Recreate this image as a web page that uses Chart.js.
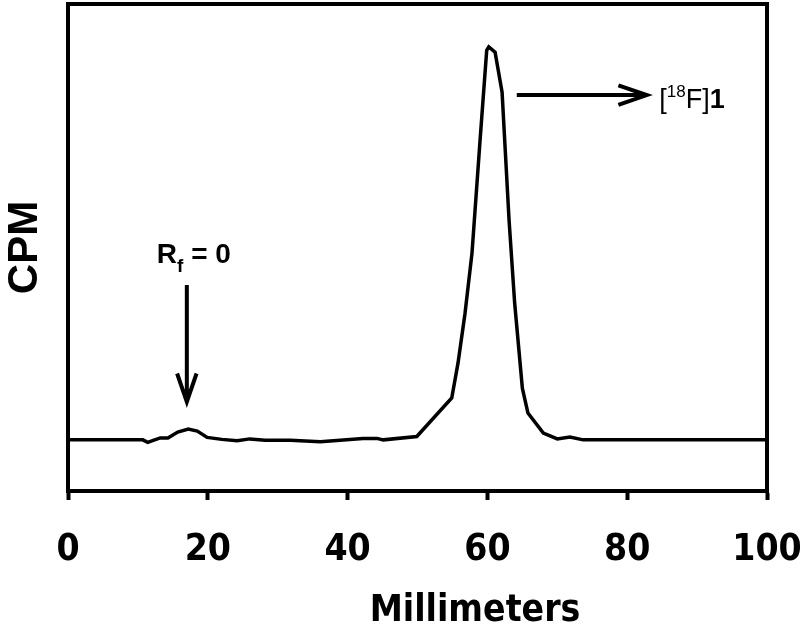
<!DOCTYPE html>
<html>
<head>
<meta charset="utf-8">
<title>Radio-TLC</title>
<script src="https://cdn.jsdelivr.net/npm/chart.js@4.4.1/dist/chart.umd.min.js"></script>
<style>
  html, body { margin: 0; padding: 0; background: #fff; }
  #tlc { display: block; }
</style>
</head>
<body>
<canvas id="tlc" width="800" height="626"></canvas>
<script>
// radio-TLC trace (CPM in arbitrary units)
const millimeters = [0, 8.9, 10.7, 11.4, 12.4, 13.2, 14.3, 15.7, 17.2, 18.5,
    19.9, 22.0, 24.2, 26.0, 28.2, 31.8, 36.1, 42.2, 44.2, 45.1,
    49.9, 54.9, 55.8, 56.8, 57.8, 58.9, 59.9, 60.2, 61.1, 62.1,
    63.1, 63.9, 65.0, 65.8, 68.0, 70.0, 71.8, 73.7, 100];
const cpm = [105, 105, 105, 100, 105, 109, 109, 121, 127, 123,
    110, 106, 103, 107, 104, 104, 101, 108, 108, 105,
    112, 191, 263, 365, 489, 710, 905, 912, 901, 819,
    556, 386, 211, 160, 119, 107, 111, 105, 105];
const xTicks = [0, 20, 40, 60, 80, 100];
const xTitle = "Millimeters";
const yTitle = "CPM";

const narrow = '"Liberation Sans Narrow", "DejaVu Sans Condensed", "Arial Narrow", sans-serif';
const sans = '"Liberation Sans", Arial, sans-serif';

function arrow(ctx, x1, y1, x2, y2) {
    const ang = Math.atan2(y2 - y1, x2 - x1);
    const len = 30, spread = 0.33;
    ctx.beginPath();
    ctx.moveTo(x1, y1);
    ctx.lineTo(x2, y2);
    ctx.moveTo(x2 - len * Math.cos(ang - spread), y2 - len * Math.sin(ang - spread));
    ctx.lineTo(x2, y2);
    ctx.lineTo(x2 - len * Math.cos(ang + spread), y2 - len * Math.sin(ang + spread));
    ctx.stroke();
}

// frame on top/right plus the arrows and their labels
const extras = {
    id: 'extras',
    afterDraw(chart) {
        const { ctx, chartArea: a } = chart;
        const xs = chart.scales.x, ys = chart.scales.y;
        ctx.save();
        ctx.strokeStyle = '#000';
        ctx.lineWidth = 4;
        ctx.lineCap = 'square';
        ctx.beginPath();
        ctx.moveTo(a.left, a.top);
        ctx.lineTo(a.right, a.top);
        ctx.lineTo(a.right, a.bottom);
        ctx.stroke();

        ctx.lineCap = 'butt';
        ctx.lineWidth = 4;
        // Rf = 0 arrow
        const rx = xs.getPixelForValue(17.0);
        arrow(ctx, rx, ys.getPixelForValue(423), rx, ys.getPixelForValue(183));
        // product arrow
        const ay = ys.getPixelForValue(813);
        arrow(ctx, xs.getPixelForValue(64.2), ay, xs.getPixelForValue(82.8), ay);

        ctx.fillStyle = '#000';
        ctx.textBaseline = 'alphabetic';
        ctx.textAlign = 'left';

        // R_f = 0
        const big = 'bold 28px ' + sans, small = 'bold 19px ' + sans;
        ctx.font = big;
        const wR = ctx.measureText('R').width, wEq = ctx.measureText(' = 0').width;
        ctx.font = small;
        const wf = ctx.measureText('f').width;
        let tx = xs.getPixelForValue(18.0) - (wR + wf + wEq) / 2;
        const ty = ys.getPixelForValue(468);
        ctx.font = big; ctx.fillText('R', tx, ty); tx += wR;
        ctx.font = small; ctx.fillText('f', tx, ty + 9); tx += wf;
        ctx.font = big; ctx.fillText(' = 0', tx, ty);

        // [18F]1
        let lx = xs.getPixelForValue(84.6);
        const ly = ys.getPixelForValue(786);
        const reg = '27px ' + sans, sup = '17px ' + sans, bld = 'bold 27px ' + sans;
        ctx.font = reg; ctx.fillText('[', lx, ly); lx += ctx.measureText('[').width;
        ctx.font = sup; ctx.fillText('18', lx, ly - 11); lx += ctx.measureText('18').width;
        ctx.font = reg; ctx.fillText('F]', lx, ly); lx += ctx.measureText('F]').width;
        ctx.font = bld; ctx.fillText('1', lx, ly);

        // x axis title, sits right of centre in the original
        ctx.font = 'bold 37px ' + narrow;
        ctx.textAlign = 'center';
        ctx.fillText(xTitle, 475, 621);
        ctx.restore();
    }
};

new Chart(document.getElementById('tlc'), {
    type: 'line',
    data: {
        datasets: [{
            data: millimeters.map((m, i) => ({ x: m, y: cpm[i] })),
            borderColor: '#000',
            borderWidth: 3.5,
            pointRadius: 0,
            tension: 0,
            fill: false
        }]
    },
    options: {
        responsive: false,
        animation: false,
        layout: { padding: { top: 4, right: 33, left: 0, bottom: 0 } },
        plugins: { legend: { display: false }, tooltip: { enabled: false } },
        scales: {
            x: {
                type: 'linear',
                min: 0,
                max: 100,
                afterBuildTicks: (s) => { s.ticks = xTicks.map(v => ({ value: v })); },
                afterFit: (s) => { s.height = 135; s.paddingLeft = 0; s.paddingRight = 0; },
                ticks: {
                    color: '#000',
                    padding: 28,
                    maxRotation: 0,
                    font: { family: narrow, size: 37, weight: 'bold' }
                },
                grid: {
                    display: true,
                    drawOnChartArea: false,
                    drawTicks: true,
                    tickLength: 9,
                    tickWidth: 4,
                    tickColor: '#000'
                },
                border: { display: true, color: '#000', width: 4 }
            },
            y: {
                min: 0,
                max: 1000,
                afterFit: (s) => { s.width = 68; },
                ticks: { display: false },
                grid: { display: false },
                border: { display: true, color: '#000', width: 4 },
                title: {
                    display: true,
                    text: yTitle,
                    color: '#000',
                    padding: 0,
                    font: { family: sans, size: 42, weight: 'bold' }
                }
            }
        }
    },
    plugins: [extras]
});
</script>
</body>
</html>
